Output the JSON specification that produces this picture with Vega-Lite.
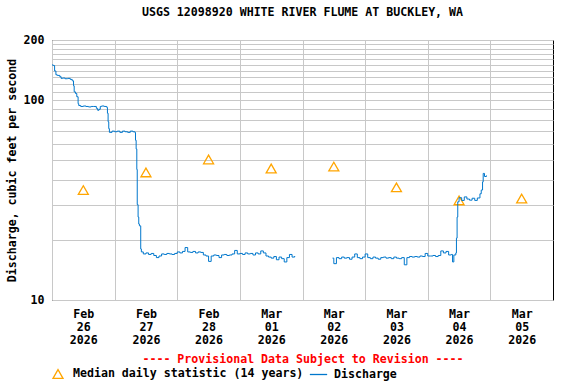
{
  "$schema": "https://vega.github.io/schema/vega-lite/v6.json",
  "width": 501,
  "height": 260,
  "autosize": {"type": "none"},
  "padding": {"left": 52, "top": 40, "right": 23, "bottom": 84},
  "background": "white",
  "title": {
    "text": "USGS 12098920 WHITE RIVER FLUME AT BUCKLEY, WA",
    "font": "DejaVu Sans Mono",
    "fontSize": 11.6,
    "fontWeight": "bold",
    "color": "black",
    "anchor": "middle",
    "frame": "group",
    "offset": 15
  },
  "config": {
    "view": {"stroke": "black", "strokeWidth": 1},
    "axis": {
      "labelFont": "DejaVu Sans Mono",
      "labelFontWeight": "bold",
      "labelFontSize": 11.6,
      "labelColor": "black",
      "titleFont": "DejaVu Sans Mono",
      "titleFontWeight": "bold",
      "titleFontSize": 11.6,
      "gridColor": "#c8c8c8",
      "gridOpacity": 1,
      "gridWidth": 1,
      "ticks": false,
      "domain": false
    },
    "legend": {
      "labelFont": "DejaVu Sans Mono",
      "labelFontWeight": "bold",
      "labelFontSize": 11.6,
      "labelColor": "black",
      "labelLimit": 0,
      "padding": 0
    }
  },
  "datasets": {
    "discharge": [
      {"t": "2026-02-26T00:00Z", "q": 150, "s": 1},
      {"t": "2026-02-26T00:30Z", "q": 149, "s": 1},
      {"t": "2026-02-26T01:00Z", "q": 140, "s": 1},
      {"t": "2026-02-26T01:30Z", "q": 134, "s": 1},
      {"t": "2026-02-26T02:00Z", "q": 133, "s": 1},
      {"t": "2026-02-26T03:00Z", "q": 131, "s": 1},
      {"t": "2026-02-26T03:30Z", "q": 128.5, "s": 1},
      {"t": "2026-02-26T04:00Z", "q": 129, "s": 1},
      {"t": "2026-02-26T05:00Z", "q": 128, "s": 1},
      {"t": "2026-02-26T06:00Z", "q": 128.5, "s": 1},
      {"t": "2026-02-26T07:00Z", "q": 127, "s": 1},
      {"t": "2026-02-26T07:45Z", "q": 125, "s": 1},
      {"t": "2026-02-26T08:15Z", "q": 118, "s": 1},
      {"t": "2026-02-26T08:30Z", "q": 110, "s": 1},
      {"t": "2026-02-26T09:00Z", "q": 108, "s": 1},
      {"t": "2026-02-26T09:30Z", "q": 104, "s": 1},
      {"t": "2026-02-26T10:00Z", "q": 96, "s": 1},
      {"t": "2026-02-26T10:15Z", "q": 94, "s": 1},
      {"t": "2026-02-26T11:00Z", "q": 93, "s": 1},
      {"t": "2026-02-26T12:00Z", "q": 93.5, "s": 1},
      {"t": "2026-02-26T13:00Z", "q": 93, "s": 1},
      {"t": "2026-02-26T14:00Z", "q": 92.5, "s": 1},
      {"t": "2026-02-26T15:00Z", "q": 93, "s": 1},
      {"t": "2026-02-26T16:00Z", "q": 93, "s": 1},
      {"t": "2026-02-26T17:00Z", "q": 91, "s": 1},
      {"t": "2026-02-26T17:30Z", "q": 89, "s": 1},
      {"t": "2026-02-26T18:00Z", "q": 90, "s": 1},
      {"t": "2026-02-26T18:30Z", "q": 93, "s": 1},
      {"t": "2026-02-26T19:00Z", "q": 93.5, "s": 1},
      {"t": "2026-02-26T20:00Z", "q": 93, "s": 1},
      {"t": "2026-02-26T21:00Z", "q": 92, "s": 1},
      {"t": "2026-02-26T21:15Z", "q": 86, "s": 1},
      {"t": "2026-02-26T21:30Z", "q": 78, "s": 1},
      {"t": "2026-02-26T21:45Z", "q": 72, "s": 1},
      {"t": "2026-02-26T22:00Z", "q": 69, "s": 1},
      {"t": "2026-02-26T23:00Z", "q": 70, "s": 1},
      {"t": "2026-02-27T00:00Z", "q": 69.5, "s": 1},
      {"t": "2026-02-27T01:00Z", "q": 70, "s": 1},
      {"t": "2026-02-27T02:00Z", "q": 69, "s": 1},
      {"t": "2026-02-27T03:00Z", "q": 70, "s": 1},
      {"t": "2026-02-27T04:00Z", "q": 69.5, "s": 1},
      {"t": "2026-02-27T05:00Z", "q": 69, "s": 1},
      {"t": "2026-02-27T06:00Z", "q": 70, "s": 1},
      {"t": "2026-02-27T07:00Z", "q": 69.5, "s": 1},
      {"t": "2026-02-27T07:45Z", "q": 69, "s": 1},
      {"t": "2026-02-27T08:00Z", "q": 63, "s": 1},
      {"t": "2026-02-27T08:15Z", "q": 57, "s": 1},
      {"t": "2026-02-27T08:30Z", "q": 45, "s": 1},
      {"t": "2026-02-27T08:40Z", "q": 30, "s": 1},
      {"t": "2026-02-27T09:00Z", "q": 26, "s": 1},
      {"t": "2026-02-27T09:15Z", "q": 24, "s": 1},
      {"t": "2026-02-27T09:30Z", "q": 23.5, "s": 1},
      {"t": "2026-02-27T10:00Z", "q": 18, "s": 1},
      {"t": "2026-02-27T10:15Z", "q": 17.4, "s": 1},
      {"t": "2026-02-27T11:00Z", "q": 17.0, "s": 1},
      {"t": "2026-02-27T12:00Z", "q": 17.2, "s": 1},
      {"t": "2026-02-27T13:00Z", "q": 16.9, "s": 1},
      {"t": "2026-02-27T14:00Z", "q": 17.1, "s": 1},
      {"t": "2026-02-27T15:00Z", "q": 16.7, "s": 1},
      {"t": "2026-02-27T16:00Z", "q": 16.3, "s": 1},
      {"t": "2026-02-27T17:00Z", "q": 16.6, "s": 1},
      {"t": "2026-02-27T18:00Z", "q": 17.0, "s": 1},
      {"t": "2026-02-27T19:00Z", "q": 16.9, "s": 1},
      {"t": "2026-02-27T20:00Z", "q": 17.1, "s": 1},
      {"t": "2026-02-27T21:00Z", "q": 17.0, "s": 1},
      {"t": "2026-02-27T22:00Z", "q": 16.9, "s": 1},
      {"t": "2026-02-27T23:00Z", "q": 17.1, "s": 1},
      {"t": "2026-02-28T00:00Z", "q": 17.4, "s": 1},
      {"t": "2026-02-28T01:00Z", "q": 17.2, "s": 1},
      {"t": "2026-02-28T02:00Z", "q": 17.5, "s": 1},
      {"t": "2026-02-28T03:00Z", "q": 18.3, "s": 1},
      {"t": "2026-02-28T04:00Z", "q": 17.4, "s": 1},
      {"t": "2026-02-28T05:00Z", "q": 17.3, "s": 1},
      {"t": "2026-02-28T06:00Z", "q": 17.5, "s": 1},
      {"t": "2026-02-28T07:00Z", "q": 17.2, "s": 1},
      {"t": "2026-02-28T08:00Z", "q": 17.4, "s": 1},
      {"t": "2026-02-28T09:00Z", "q": 17.3, "s": 1},
      {"t": "2026-02-28T10:00Z", "q": 16.8, "s": 1},
      {"t": "2026-02-28T11:00Z", "q": 16.6, "s": 1},
      {"t": "2026-02-28T12:00Z", "q": 15.6, "s": 1},
      {"t": "2026-02-28T13:00Z", "q": 16.6, "s": 1},
      {"t": "2026-02-28T14:00Z", "q": 16.8, "s": 1},
      {"t": "2026-02-28T15:00Z", "q": 16.7, "s": 1},
      {"t": "2026-02-28T16:00Z", "q": 16.3, "s": 1},
      {"t": "2026-02-28T17:00Z", "q": 16.8, "s": 1},
      {"t": "2026-02-28T18:00Z", "q": 16.9, "s": 1},
      {"t": "2026-02-28T19:00Z", "q": 16.7, "s": 1},
      {"t": "2026-02-28T20:00Z", "q": 16.8, "s": 1},
      {"t": "2026-02-28T21:00Z", "q": 17.0, "s": 1},
      {"t": "2026-02-28T22:00Z", "q": 17.7, "s": 1},
      {"t": "2026-02-28T23:00Z", "q": 17.0, "s": 1},
      {"t": "2026-03-01T00:00Z", "q": 17.1, "s": 1},
      {"t": "2026-03-01T01:00Z", "q": 16.9, "s": 1},
      {"t": "2026-03-01T02:00Z", "q": 17.2, "s": 1},
      {"t": "2026-03-01T03:00Z", "q": 17.0, "s": 1},
      {"t": "2026-03-01T04:00Z", "q": 17.1, "s": 1},
      {"t": "2026-03-01T05:00Z", "q": 16.8, "s": 1},
      {"t": "2026-03-01T06:00Z", "q": 17.2, "s": 1},
      {"t": "2026-03-01T07:00Z", "q": 17.0, "s": 1},
      {"t": "2026-03-01T08:00Z", "q": 17.6, "s": 1},
      {"t": "2026-03-01T09:00Z", "q": 17.2, "s": 1},
      {"t": "2026-03-01T10:00Z", "q": 16.6, "s": 1},
      {"t": "2026-03-01T11:00Z", "q": 16.4, "s": 1},
      {"t": "2026-03-01T12:00Z", "q": 16.2, "s": 1},
      {"t": "2026-03-01T13:00Z", "q": 16.5, "s": 1},
      {"t": "2026-03-01T14:00Z", "q": 15.9, "s": 1},
      {"t": "2026-03-01T15:00Z", "q": 16.4, "s": 1},
      {"t": "2026-03-01T16:00Z", "q": 16.1, "s": 1},
      {"t": "2026-03-01T17:00Z", "q": 15.5, "s": 1},
      {"t": "2026-03-01T18:00Z", "q": 16.3, "s": 1},
      {"t": "2026-03-01T19:00Z", "q": 16.9, "s": 1},
      {"t": "2026-03-01T20:00Z", "q": 16.4, "s": 1},
      {"t": "2026-03-01T21:00Z", "q": 16.6, "s": 1},
      {"t": "2026-03-02T11:30Z", "q": 16.2, "s": 2},
      {"t": "2026-03-02T12:00Z", "q": 15.2, "s": 2},
      {"t": "2026-03-02T13:00Z", "q": 16.3, "s": 2},
      {"t": "2026-03-02T14:00Z", "q": 16.1, "s": 2},
      {"t": "2026-03-02T15:00Z", "q": 16.4, "s": 2},
      {"t": "2026-03-02T16:00Z", "q": 16.2, "s": 2},
      {"t": "2026-03-02T17:00Z", "q": 16.3, "s": 2},
      {"t": "2026-03-02T18:00Z", "q": 16.0, "s": 2},
      {"t": "2026-03-02T19:00Z", "q": 16.4, "s": 2},
      {"t": "2026-03-02T20:00Z", "q": 17.0, "s": 2},
      {"t": "2026-03-02T21:00Z", "q": 16.3, "s": 2},
      {"t": "2026-03-02T22:00Z", "q": 16.1, "s": 2},
      {"t": "2026-03-02T23:00Z", "q": 16.4, "s": 2},
      {"t": "2026-03-03T00:00Z", "q": 17.0, "s": 2},
      {"t": "2026-03-03T01:00Z", "q": 16.3, "s": 2},
      {"t": "2026-03-03T02:00Z", "q": 16.1, "s": 2},
      {"t": "2026-03-03T03:00Z", "q": 16.4, "s": 2},
      {"t": "2026-03-03T04:00Z", "q": 16.2, "s": 2},
      {"t": "2026-03-03T05:00Z", "q": 16.0, "s": 2},
      {"t": "2026-03-03T06:00Z", "q": 16.3, "s": 2},
      {"t": "2026-03-03T07:00Z", "q": 16.4, "s": 2},
      {"t": "2026-03-03T08:00Z", "q": 16.2, "s": 2},
      {"t": "2026-03-03T09:00Z", "q": 16.3, "s": 2},
      {"t": "2026-03-03T10:00Z", "q": 16.1, "s": 2},
      {"t": "2026-03-03T11:00Z", "q": 16.4, "s": 2},
      {"t": "2026-03-03T12:00Z", "q": 16.2, "s": 2},
      {"t": "2026-03-03T13:00Z", "q": 16.1, "s": 2},
      {"t": "2026-03-03T14:00Z", "q": 16.3, "s": 2},
      {"t": "2026-03-03T15:00Z", "q": 15.0, "s": 2},
      {"t": "2026-03-03T16:00Z", "q": 16.3, "s": 2},
      {"t": "2026-03-03T17:00Z", "q": 16.5, "s": 2},
      {"t": "2026-03-03T18:00Z", "q": 16.4, "s": 2},
      {"t": "2026-03-03T19:00Z", "q": 16.5, "s": 2},
      {"t": "2026-03-03T20:00Z", "q": 16.4, "s": 2},
      {"t": "2026-03-03T21:00Z", "q": 16.6, "s": 2},
      {"t": "2026-03-03T22:00Z", "q": 16.5, "s": 2},
      {"t": "2026-03-03T23:00Z", "q": 17.1, "s": 2},
      {"t": "2026-03-04T00:00Z", "q": 16.6, "s": 2},
      {"t": "2026-03-04T01:00Z", "q": 16.6, "s": 2},
      {"t": "2026-03-04T02:00Z", "q": 16.7, "s": 2},
      {"t": "2026-03-04T03:00Z", "q": 16.5, "s": 2},
      {"t": "2026-03-04T04:00Z", "q": 16.7, "s": 2},
      {"t": "2026-03-04T05:00Z", "q": 17.6, "s": 2},
      {"t": "2026-03-04T06:00Z", "q": 17.2, "s": 2},
      {"t": "2026-03-04T07:00Z", "q": 17.5, "s": 2},
      {"t": "2026-03-04T08:00Z", "q": 16.8, "s": 2},
      {"t": "2026-03-04T09:00Z", "q": 16.9, "s": 2},
      {"t": "2026-03-04T09:30Z", "q": 15.5, "s": 2},
      {"t": "2026-03-04T10:00Z", "q": 16.8, "s": 2},
      {"t": "2026-03-04T10:45Z", "q": 17.2, "s": 2},
      {"t": "2026-03-04T11:00Z", "q": 20.4, "s": 2},
      {"t": "2026-03-04T11:15Z", "q": 26, "s": 2},
      {"t": "2026-03-04T11:30Z", "q": 31, "s": 2},
      {"t": "2026-03-04T12:00Z", "q": 32.5, "s": 2},
      {"t": "2026-03-04T13:00Z", "q": 31.5, "s": 2},
      {"t": "2026-03-04T14:00Z", "q": 32.8, "s": 2},
      {"t": "2026-03-04T15:00Z", "q": 32.0, "s": 2},
      {"t": "2026-03-04T16:00Z", "q": 31.6, "s": 2},
      {"t": "2026-03-04T17:00Z", "q": 32.3, "s": 2},
      {"t": "2026-03-04T18:00Z", "q": 31.5, "s": 2},
      {"t": "2026-03-04T19:00Z", "q": 32.4, "s": 2},
      {"t": "2026-03-04T20:00Z", "q": 34.0, "s": 2},
      {"t": "2026-03-04T20:30Z", "q": 35.5, "s": 2},
      {"t": "2026-03-04T21:00Z", "q": 39, "s": 2},
      {"t": "2026-03-04T21:15Z", "q": 43, "s": 2},
      {"t": "2026-03-04T21:45Z", "q": 41.5, "s": 2},
      {"t": "2026-03-04T22:30Z", "q": 42, "s": 2}
    ],
    "median": [
      {"t": "2026-02-26T12:00Z", "q": 35.5},
      {"t": "2026-02-27T12:00Z", "q": 43.5},
      {"t": "2026-02-28T12:00Z", "q": 50.5},
      {"t": "2026-03-01T12:00Z", "q": 45.5},
      {"t": "2026-03-02T12:00Z", "q": 46.5},
      {"t": "2026-03-03T12:00Z", "q": 36.6},
      {"t": "2026-03-04T12:00Z", "q": 31.5},
      {"t": "2026-03-05T12:00Z", "q": 32.2}
    ]
  },
  "encoding": {
    "x": {
      "field": "t",
      "type": "temporal",
      "scale": {
        "type": "utc",
        "domain": [
          {"year": 2026, "month": 2, "date": 26, "utc": true},
          {"year": 2026, "month": 3, "date": 6, "utc": true}
        ]
      },
      "axis": {
        "values": [
          {"year": 2026, "month": 2, "date": 26, "utc": true},
          {"year": 2026, "month": 2, "date": 27, "utc": true},
          {"year": 2026, "month": 2, "date": 28, "utc": true},
          {"year": 2026, "month": 3, "date": 1, "utc": true},
          {"year": 2026, "month": 3, "date": 2, "utc": true},
          {"year": 2026, "month": 3, "date": 3, "utc": true},
          {"year": 2026, "month": 3, "date": 4, "utc": true},
          {"year": 2026, "month": 3, "date": 5, "utc": true}
        ],
        "labelExpr": "[utcFormat(datum.value, '%b'), utcFormat(datum.value, '%d'), utcFormat(datum.value, '%Y')]",
        "labelOffset": 31.3,
        "labelPadding": 8,
        "labelLineHeight": 13,
        "labelOverlap": false,
        "labelFlush": false,
        "grid": true,
        "title": "---- Provisional Data Subject to Revision ----",
        "titleColor": "#ff0000",
        "titlePadding": 8
      }
    },
    "y": {
      "field": "q",
      "type": "quantitative",
      "scale": {"type": "log", "domain": [10, 200], "nice": false},
      "axis": {
        "values": [10, 20, 30, 40, 50, 60, 70, 80, 90, 100, 110, 120, 130, 140, 150, 160, 170, 180, 190, 200],
        "labelExpr": "datum.value == 10 || datum.value == 100 || datum.value == 200 ? datum.value : ''",
        "labelPadding": 8,
        "labelOverlap": false,
        "grid": true,
        "title": "Discharge, cubic feet per second",
        "titlePadding": 6
      }
    }
  },
  "layer": [
    {
      "data": {"name": "median"},
      "mark": {"type": "point", "filled": false, "color": "#ffa500", "size": 100, "strokeWidth": 1.3, "opacity": 1},
      "encoding": {
        "shape": {
          "datum": "Median daily statistic (14 years)",
          "scale": {"range": ["triangle-up"]},
          "legend": {
            "title": null,
            "orient": "none",
            "legendX": 0,
            "legendY": 328,
            "symbolSize": 100,
            "symbolStrokeColor": "#ffa500",
            "symbolStrokeWidth": 1.3,
            "labelOffset": 9
          }
        }
      }
    },
    {
      "data": {"name": "discharge"},
      "mark": {"type": "line", "interpolate": "step-after", "strokeWidth": 1},
      "encoding": {
        "detail": {"field": "s", "type": "nominal"},
        "color": {
          "datum": "Discharge",
          "scale": {"range": ["#0077cc"]},
          "legend": {
            "title": null,
            "orient": "none",
            "legendX": 257,
            "legendY": 325,
            "symbolSize": 300,
            "symbolType": "stroke",
            "symbolStrokeWidth": 1.3,
            "labelOffset": 6
          }
        }
      }
    }
  ]
}
